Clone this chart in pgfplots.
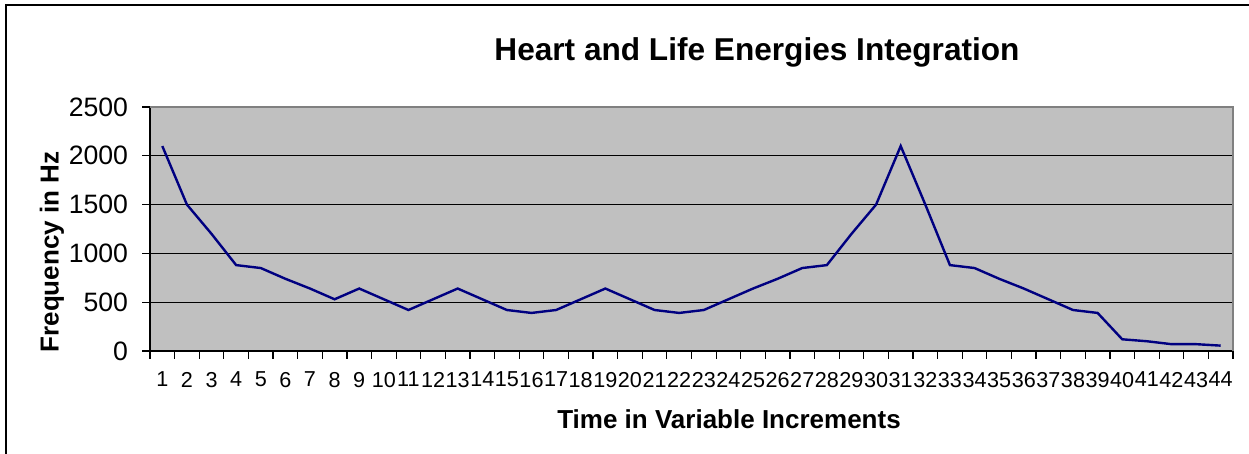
\documentclass[border=0pt]{standalone}
\usepackage{pgfplots}
\pgfplotsset{compat=1.18}
\usepackage{fontspec}
\setmainfont{Liberation Sans}
\definecolor{plotbg}{HTML}{C0C0C0}
\definecolor{navyline}{HTML}{000080}
\definecolor{bordergray}{HTML}{808080}
\begin{document}
\begin{tikzpicture}
\useasboundingbox (0pt,0pt) rectangle (624.5pt,-227pt);
\draw[black, line width=0.6pt] (3pt,-227pt) -- (3pt,-2.5pt) -- (624.5pt,-2.5pt);
\begin{axis}[
  at={(75pt,-175.5pt)}, anchor=south west,
  width=541.5pt, height=122pt, scale only axis,
  xmin=0.5, xmax=44.5, ymin=0, ymax=2500,
  axis lines*=left,
  axis line style={black, line width=0.6pt},
  axis background/.style={fill=plotbg},
  ytick={0,500,1000,1500,2000,2500},
  ymajorgrids, grid style={black, line width=0.5pt},
  xtick={1,...,44},
  major x tick style={draw=none},
  minor xtick={0.5,1.5,...,44.5},
  tick align=outside,
  major tick length=4pt, minor tick length=4pt,
  tick style={black, line width=0.6pt},
  /pgf/number format/assume math mode=true,
  /pgf/number format/1000 sep={},
  yticklabel style={font=\fontsize{13.3}{13.3}\selectfont, xshift=-3.5pt},
  xticklabel style={font=\fontsize{10.8}{10.8}\selectfont, yshift=-3pt},
  clip=false,
]
\addplot[navyline, line width=1.2pt] coordinates {
(1,2100) (2,1500) (3,1200) (4,880) (5,850) (6,740) (7,640) (8,530) (9,640) (10,530)
(11,420) (12,530) (13,640) (14,530) (15,420) (16,390) (17,420) (18,530) (19,640) (20,530)
(21,420) (22,390) (23,420) (24,530) (25,640) (26,740) (27,850) (28,880) (29,1200) (30,1500)
(31,2100) (32,1500) (33,880) (34,850) (35,740) (36,640) (37,530) (38,420) (39,390) (40,120)
(41,100) (42,70) (43,70) (44,55)
};
\draw[bordergray, line width=1.2pt] (rel axis cs:0,1) -- (rel axis cs:1,1) -- (rel axis cs:1,0);
\end{axis}
\node[font=\bfseries\fontsize{15.8}{15.8}\selectfont] at (378.5pt,-26pt) {Heart and Life Energies Integration};
\node[font=\bfseries\fontsize{13}{13}\selectfont] at (364.5pt,-209.5pt) {Time in Variable Increments};
\node[font=\bfseries\fontsize{13}{13}\selectfont, rotate=90] at (26pt,-126pt) {Frequency in Hz};
\end{tikzpicture}
\end{document}
